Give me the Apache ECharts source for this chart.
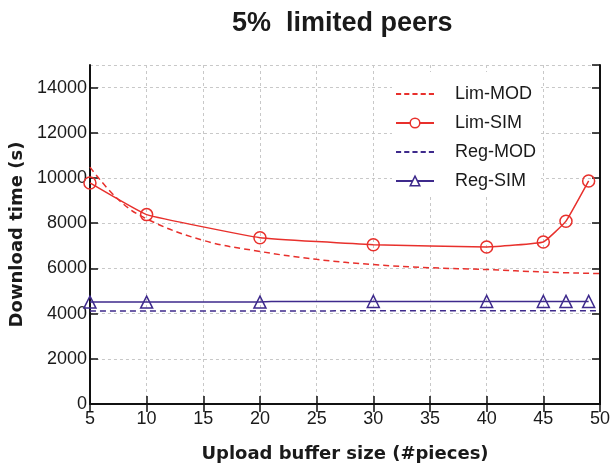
<!DOCTYPE html>
<html>
<head>
<meta charset="utf-8">
<script src="https://cdn.jsdelivr.net/npm/echarts@6/dist/echarts.min.js"></script>
<style>
html,body{margin:0;padding:0;background:#fff;}
#chart{width:613px;height:468px;}
</style>
</head>
<body>
<div id="chart"></div>
<script>
// ---- data ----
var titleText = '5%  limited peers';
var xAxisName = 'Upload buffer size (#pieces)';
var yAxisName = 'Download time (s)';
var seriesNames = ['Lim-MOD', 'Lim-SIM', 'Reg-MOD', 'Reg-SIM'];

var limModX = [5, 7.5, 10, 15, 20, 25, 30, 35, 40, 45, 50];
var limModY = [10480, 9050, 8190, 7240, 6750, 6400, 6170, 6030, 5950, 5840, 5770];

var limSimX = [5, 10, 20, 30, 40, 45, 47, 49];
var limSimY = [9780, 8380, 7360, 7050, 6950, 7170, 8090, 9870];

var regModX = [5, 10, 15, 20, 25, 28, 30, 35, 40, 45, 50];
var regModY = [4110, 4110, 4110, 4110, 4110, 4130, 4130, 4130, 4130, 4130, 4130];

var regSimX = [5, 10, 20, 21, 30, 40, 45, 47, 49];
var regSimY = [4510, 4510, 4510, 4540, 4540, 4540, 4540, 4540, 4540];
var regSimMarked = [true, true, true, false, true, true, true, true, true];

var xMin = 5, xMax = 50, xStep = 5;
var yMin = 0, yMax = 15000, yStep = 2000;

function pairs(xs, ys) { return xs.map(function (x, i) { return [x, ys[i]]; }); }

var RED = '#e8302c';
var PURPLE = '#3e2a8c';
var INK = '#1a1a1a';
var DASH_ICON = 'path://M0,0h5v1.8h-5z M8,0h5v1.8h-5z M16,0h5v1.8h-5z M24,0h5v1.8h-5z M32,0h5v1.8h-5z';

var chart = echarts.init(document.getElementById('chart'), null, {renderer: 'canvas'});

var gridLine = {show: true, lineStyle: {color: '#c8c8c8', type: [3, 3], width: 1}};
var axisLineStyle = {show: true, lineStyle: {color: '#111', width: 2}};
var tickStyle = {show: true, inside: true, length: 8, lineStyle: {color: '#111', width: 1.5}};

var regSimData = regSimX.map(function (x, i) {
  return regSimMarked[i] ? [x, regSimY[i]] : {value: [x, regSimY[i]], symbol: 'none'};
});

var option = {
  backgroundColor: '#fff',
  animation: false,
  title: {
    text: titleText,
    left: 227, top: 5,
    textStyle: {fontFamily: 'Liberation Sans', fontWeight: 'bold', fontSize: 27, color: INK}
  },
  grid: {left: 88, right: 9, top: 65, bottom: 62, containLabel: false},
  legend: {
    data: [
      {name: seriesNames[0], icon: DASH_ICON},
      {name: seriesNames[1], itemStyle: {color: '#fff', borderColor: RED, borderWidth: 1.5}},
      {name: seriesNames[2], icon: DASH_ICON},
      {name: seriesNames[3], itemStyle: {color: '#fff', borderColor: PURPLE, borderWidth: 1.5}}
    ],
    orient: 'vertical',
    left: 392, top: 72,
    padding: [13, 5, 6, 3],
    backgroundColor: '#fff',
    itemWidth: 38, itemHeight: 12, itemGap: 11,
    textStyle: {fontFamily: 'Liberation Sans', fontSize: 18, color: INK, padding: [0, 0, 0, 16]}
  },
  xAxis: [{
    type: 'value', min: xMin, max: xMax, interval: xStep,
    name: xAxisName, nameLocation: 'middle', nameGap: 41,
    nameTextStyle: {fontFamily: 'DejaVu Sans', fontWeight: 'bold', fontSize: 18, color: INK},
    axisLine: axisLineStyle, axisTick: tickStyle,
    axisLabel: {fontFamily: 'Liberation Sans', fontSize: 18, color: INK, margin: 6},
    splitLine: gridLine
  }, {
    type: 'value', min: xMin, max: xMax, interval: xStep, position: 'top',
    axisLine: axisLineStyle, axisTick: tickStyle,
    axisLabel: {show: false}, splitLine: {show: false}
  }],
  yAxis: [{
    type: 'value', min: yMin, max: yMax, interval: yStep,
    name: yAxisName, nameLocation: 'middle', nameGap: 57,
    nameTextStyle: {fontFamily: 'DejaVu Sans', fontWeight: 'bold', fontSize: 18, color: INK},
    axisLine: axisLineStyle, axisTick: tickStyle,
    axisLabel: {fontFamily: 'Liberation Sans', fontSize: 18, color: INK, margin: 3, showMaxLabel: false,
      formatter: function (v) { return String(v); }},
    splitLine: gridLine
  }, {
    type: 'value', min: yMin, max: yMax, interval: yStep, position: 'right',
    axisLine: axisLineStyle, axisTick: tickStyle,
    axisLabel: {show: false}, splitLine: {show: false}
  }],
  series: [{
    name: seriesNames[0], type: 'line', data: pairs(limModX, limModY),
    smooth: 0.4, symbol: 'none', color: RED,
    lineStyle: {color: RED, width: 1.5, type: [6, 4]}
  }, {
    name: seriesNames[1], type: 'line', data: pairs(limSimX, limSimY),
    smooth: 0.1, symbol: 'circle', symbolSize: 12, color: RED,
    lineStyle: {color: RED, width: 1.5},
    itemStyle: {color: 'rgba(255,255,255,0)', borderColor: RED, borderWidth: 1.5}
  }, {
    name: seriesNames[2], type: 'line', data: pairs(regModX, regModY),
    symbol: 'none', color: PURPLE,
    lineStyle: {color: PURPLE, width: 1.5, type: [6, 4]}
  }, {
    name: seriesNames[3], type: 'line', data: regSimData,
    symbol: 'triangle', symbolSize: 12, color: PURPLE,
    lineStyle: {color: PURPLE, width: 1.5},
    itemStyle: {color: 'rgba(255,255,255,0)', borderColor: PURPLE, borderWidth: 1.5}
  }]
};
chart.setOption(option);
</script>
</body>
</html>
